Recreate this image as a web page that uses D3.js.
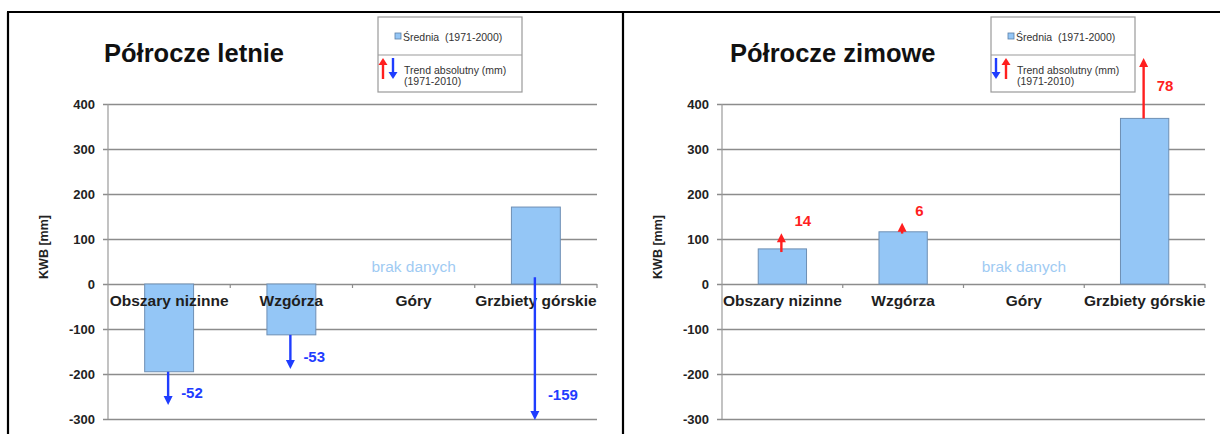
<!DOCTYPE html>
<html>
<head>
<meta charset="utf-8">
<script src="https://cdn.jsdelivr.net/npm/d3@7"></script>
<style>
  body { margin: 0; background: #fff; }
  svg { display: block; font-family: "Liberation Sans", Arial, sans-serif; }
</style>
</head>
<body>
<div id="chart"></div>
<script>
// values (KWB, mm)
var categories = ["Obszary nizinne", "Wzgórza", "Góry", "Grzbiety górskie"];
var yTicks = [400, 300, 200, 100, 0, -100, -200, -300];

var summerMean = [-195, -113, null, 171];
var summerTrend = [-52, -53, null, -159];
var summerArrowFrom = [-195, -113, null, 15];
var summerArrowTo = [-269, -189, null, -302];

var winterMean = [78, 116, null, 368];
var winterTrend = [14, 6, null, 78];
var winterArrowFrom = [71, 112, null, 368];
var winterArrowTo = [113, 136, null, 502];

var noData = "brak danych";
var yTitle = "KWB [mm]";
var legendMean = "Średnia  (1971-2000)";
var legendTrend = ["Trend absolutny (mm)", "(1971-2010)"];

var W = 1220, H = 434;
var RED = "#ff1f1f", BLUE = "#1f3dff";

var svg = d3.select("#chart").append("svg")
  .attr("width", W).attr("height", H);

// frame
svg.append("rect").attr("width", W).attr("height", H).attr("fill", "#fff");
[[7, 12, W, 12], [8, 12, 8, H], [623, 12, 623, H]].forEach(function(l) {
  svg.append("line")
    .attr("x1", l[0]).attr("y1", l[1]).attr("x2", l[2]).attr("y2", l[3])
    .attr("stroke", "#000").attr("stroke-width", 2.2);
});

var panels = [
  { title: "Półrocze letnie", mean: summerMean, trend: summerTrend,
    from: summerArrowFrom, to: summerArrowTo,
    axisX: 108, right: 597, titleX: 104, yLabX: 44, legX: 378, legOrder: ["up", "down"] },
  { title: "Półrocze zimowe", mean: winterMean, trend: winterTrend,
    from: winterArrowFrom, to: winterArrowTo,
    axisX: 722, right: 1205, titleX: 730, yLabX: 658, legX: 991, legOrder: ["down", "up"] }
];

var y = d3.scaleLinear().domain([-300, 400]).range([419, 104]);

function arrow(g, x, y1, y2, color, len) {
  var dir = y2 < y1 ? -1 : 1;
  var head = len || 9;
  g.append("line")
    .attr("x1", x).attr("y1", y1)
    .attr("x2", x).attr("y2", y2 - dir * head * 0.7)
    .attr("stroke", color).attr("stroke-width", 2.4);
  g.append("path")
    .attr("d", "M" + (x - 4.5) + "," + (y2 - dir * head) +
               "L" + (x + 4.5) + "," + (y2 - dir * head) +
               "L" + x + "," + y2 + "Z")
    .attr("fill", color);
}

panels.forEach(function(p) {
  var g = svg.append("g");
  var x = d3.scaleBand().domain(categories).range([p.axisX, p.right]);

  // grid + tick labels
  var ax = g.append("g")
    .attr("transform", "translate(" + (p.axisX - 5) + ",0)")
    .call(d3.axisLeft(y).tickValues(yTicks).tickFormat(String)
      .tickSize(-(p.right - p.axisX + 5)).tickPadding(8));
  ax.select(".domain").remove();
  ax.selectAll(".tick line").attr("stroke", "#8c8c8c").attr("stroke-width", 1.4);
  ax.selectAll(".tick text")
    .attr("font-family", "Liberation Sans, Arial, sans-serif")
    .attr("font-size", 13).attr("font-weight", "bold").attr("fill", "#222");

  g.append("line")
    .attr("x1", p.axisX).attr("x2", p.axisX)
    .attr("y1", y(400)).attr("y2", y(-300))
    .attr("stroke", "#9a9a9a").attr("stroke-width", 1.2);

  // small category ticks on zero line
  categories.forEach(function(c) {
    var bx = x(c) + x.bandwidth();
    g.append("line").attr("x1", bx).attr("x2", bx)
      .attr("y1", y(0)).attr("y2", y(0) + 4)
      .attr("stroke", "#8c8c8c").attr("stroke-width", 1.2);
  });

  // bars
  g.selectAll("rect.bar")
    .data(categories.map(function(c, i) { return { c: c, v: p.mean[i] }; })
      .filter(function(d) { return d.v !== null; }))
    .enter().append("rect")
    .attr("class", "bar")
    .attr("x", function(d) { return x(d.c) + x.bandwidth() * 0.3; })
    .attr("width", x.bandwidth() * 0.4)
    .attr("y", function(d) { return y(Math.max(0, d.v)); })
    .attr("height", function(d) { return Math.abs(y(d.v) - y(0)); })
    .attr("fill", "#94c6f6").attr("stroke", "#6e8fb4").attr("stroke-width", 1);

  // category labels
  g.selectAll("text.cat")
    .data(categories).enter().append("text")
    .attr("class", "cat")
    .attr("x", function(c) { return x(c) + x.bandwidth() / 2; })
    .attr("y", y(0) + 22)
    .attr("text-anchor", "middle")
    .attr("font-size", 15.5).attr("font-weight", "bold").attr("fill", "#1e1e1e")
    .text(function(c) { return c; });

  // no data note
  g.append("text")
    .attr("x", x("Góry") + x.bandwidth() / 2)
    .attr("y", y(0) - 12)
    .attr("text-anchor", "middle")
    .attr("font-size", 15.5).attr("fill", "#9fcbf3")
    .text(noData);

  // trend arrows + labels
  categories.forEach(function(c, i) {
    if (p.trend[i] === null) return;
    var cx = x(c) + x.bandwidth() / 2 - 1;
    var up = p.to[i] > p.from[i];
    var col = up ? RED : BLUE;
    arrow(g, cx, y(p.from[i]), y(p.to[i]), col);
    var ly = up ? Math.max(y(p.to[i]) - 12, y(400) - 18)
                : Math.min(y(p.to[i]) - 12, y(-300) - 24);
    g.append("text")
      .attr("x", cx + 13).attr("y", ly).attr("dy", "0.35em")
      .attr("font-size", 15).attr("font-weight", "bold").attr("fill", col)
      .text(p.trend[i]);
  });

  // axis title
  g.append("text")
    .attr("transform", "translate(" + p.yLabX + "," + 247 + ") rotate(-90)")
    .attr("text-anchor", "middle").attr("dy", "0.35em")
    .attr("font-size", 12.5).attr("font-weight", "bold").attr("fill", "#222")
    .text(yTitle);

  // chart title
  g.append("text")
    .attr("x", p.titleX).attr("y", 62)
    .attr("font-size", 25.5).attr("font-weight", "bold").attr("fill", "#111")
    .text(p.title);

  // legend box
  var lg = g.append("g").attr("transform", "translate(" + p.legX + ",17)");
  lg.append("rect").attr("width", 144).attr("height", 75)
    .attr("fill", "#fff").attr("stroke", "#9a9a9a").attr("stroke-width", 1.2);
  lg.append("line").attr("x1", 0).attr("x2", 144).attr("y1", 38).attr("y2", 38)
    .attr("stroke", "#9a9a9a").attr("stroke-width", 1.2);
  lg.append("rect").attr("x", 17).attr("y", 16).attr("width", 6).attr("height", 6)
    .attr("fill", "#94c6f6").attr("stroke", "#5a7fa8").attr("stroke-width", 0.8);
  lg.append("text").attr("x", 25).attr("y", 20).attr("dy", "0.35em")
    .attr("font-size", 10.5).attr("fill", "#333")
    .style("white-space", "pre")
    .text(legendMean);
  p.legOrder.forEach(function(o, k) {
    var ax0 = 5 + k * 10;
    if (o === "up") arrow(lg, ax0, 62, 41, RED, 7);
    else arrow(lg, ax0, 41, 62, BLUE, 7);
  });
  legendTrend.forEach(function(t, k) {
    lg.append("text").attr("x", 26).attr("y", 53 + k * 11).attr("dy", "0.35em")
      .attr("font-size", 10.5).attr("fill", "#333").text(t);
  });
});
</script>
</body>
</html>
